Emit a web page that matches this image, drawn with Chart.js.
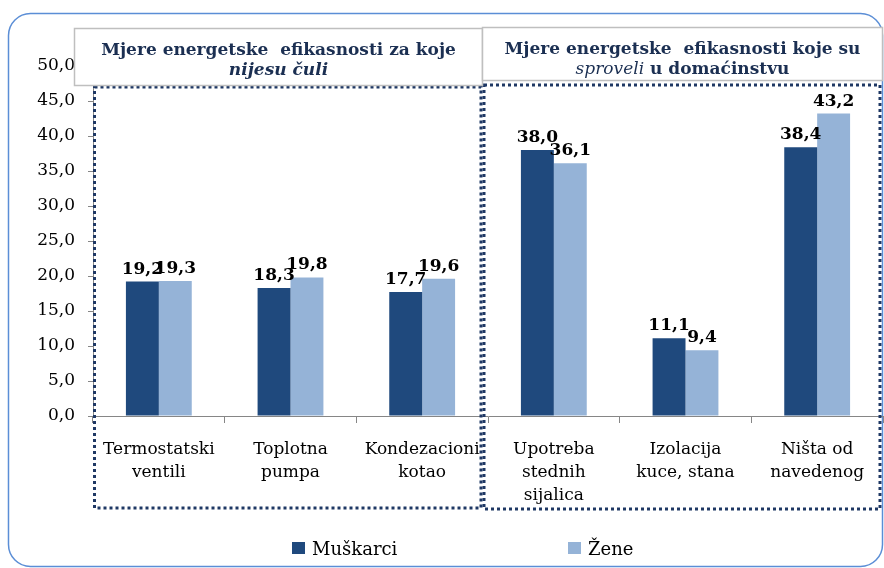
<!DOCTYPE html>
<html><head><meta charset="utf-8">
<script src="https://cdn.jsdelivr.net/npm/chart.js@4.4.0/dist/chart.umd.min.js"></script>
<style>html,body{margin:0;padding:0;background:#fff;}#wrap{position:relative;width:884px;height:568px;}</style>
</head><body><div id="wrap"><canvas id="c" width="884" height="568"></canvas></div>
<script>
// ---- data ----
const categories = [["Termostatski","ventili"],["Toplotna","pumpa"],["Kondezacioni","kotao"],["Upotreba","stednih","sijalica"],["Izolacija","kuce, stana"],["Ništa od","navedenog"]];
const seriesNames = ["Muškarci","Žene"];
const muskarci = [19.2,18.3,17.7,38.0,11.1,38.4];
const zene = [19.3,19.8,19.6,36.1,9.4,43.2];
const yMin = 0, yMax = 50, yStep = 5;
const leftGroupTitle = [[{t:"Mjere energetske  efikasnosti za koje",w:"bold",s:"normal"}],[{t:"nijesu čuli",w:"bold",s:"italic"}]];
const rightGroupTitle = [[{t:"Mjere energetske  efikasnosti koje su",w:"bold",s:"normal"}],[{t:"sproveli",w:"normal",s:"italic"},{t:" u domaćinstvu",w:"bold",s:"normal"}]];
const groupRanges = [[0,2],[3,5]];

const FONT = "'DejaVu Serif', serif";
const fmt = v => v.toFixed(1).replace('.', ',');
const colors = ['#1F497D', '#95B3D7'];

const decor = {
  id: 'decor',
  beforeDraw(chart) {
    const ctx = chart.ctx;
    ctx.save();
    ctx.fillStyle = '#fff';
    ctx.fillRect(0, 0, chart.width, chart.height);
    // outer rounded frame
    ctx.strokeStyle = '#5b8ed6';
    ctx.lineWidth = 1.5;
    ctx.beginPath();
    ctx.roundRect(8.5, 13.5, 874, 553, 22);
    ctx.stroke();
    ctx.restore();
  },
  afterDatasetsDraw(chart) {
    const ctx = chart.ctx;
    ctx.save();
    ctx.font = "bold 17px " + FONT;
    ctx.fillStyle = '#000';
    ctx.textAlign = 'center';
    ctx.textBaseline = 'alphabetic';
    chart.data.datasets.forEach((ds, di) => {
      chart.getDatasetMeta(di).data.forEach((bar, i) => {
        ctx.fillText(fmt(ds.data[i]), bar.x, bar.y - 8);
      });
    });
    ctx.restore();
  },
  afterDraw(chart) {
    const ctx = chart.ctx;
    const xs = chart.scales.x, ca = chart.chartArea;
    const half = (xs.getPixelForValue(1) - xs.getPixelForValue(0)) / 2;
    ctx.save();
    // dotted group boxes
    ctx.strokeStyle = '#1F3864';
    ctx.lineWidth = 3;
    ctx.setLineDash([3, 3]);
    const b1 = xs.getPixelForValue(groupRanges[0][1]) + half;
    ctx.strokeRect(ca.left + 1.5, ca.top + 21, b1 - 7 - ca.left - 1.5, ca.bottom + 92 - ca.top - 21);
    ctx.strokeRect(b1 - 4, ca.top + 19, ca.right - 3 - (b1 - 4), ca.bottom + 93 - ca.top - 19);
    ctx.setLineDash([]);
    // header boxes
    const drawHeader = (x0, x1, y0, y1, lines, base) => {
      ctx.fillStyle = '#fff';
      ctx.fillRect(x0, y0, x1 - x0, y1 - y0);
      ctx.strokeStyle = '#bfbfbf';
      ctx.lineWidth = 1.5;
      ctx.strokeRect(x0, y0, x1 - x0, y1 - y0);
      ctx.fillStyle = '#1b2f52';
      ctx.textBaseline = 'alphabetic';
      ctx.textAlign = 'left';
      const cx = (x0 + x1) / 2;
      lines.forEach((segs, li) => {
        let w = 0;
        segs.forEach(s => { ctx.font = `${s.s} ${s.w} 17px ${FONT}`; w += ctx.measureText(s.t).width; });
        let x = cx - w / 2;
        segs.forEach(s => { ctx.font = `${s.s} ${s.w} 17px ${FONT}`; ctx.fillText(s.t, x, base[li]); x += ctx.measureText(s.t).width; });
      });
    };
    drawHeader(74.5, b1 - 5.5, 28.5, 85.5, leftGroupTitle, [55, 75]);
    drawHeader(b1 - 5.5, ca.right - 0.5, 27.5, 80.5, rightGroupTitle, [54, 74]);
    // legend
    ctx.font = "18px " + FONT;
    ctx.textBaseline = 'alphabetic';
    ctx.textAlign = 'left';
    const legendX = [292, 568];
    chart.data.datasets.forEach((ds, di) => {
      ctx.fillStyle = ds.backgroundColor;
      ctx.fillRect(legendX[di], 542, 13, 12);
      ctx.fillStyle = '#000';
      ctx.fillText(ds.label, legendX[di] + 20, 555);
    });
    ctx.restore();
  }
};

new Chart(document.getElementById('c'), {
  type: 'bar',
  data: {
    labels: categories,
    datasets: [
      { label: seriesNames[0], data: muskarci, backgroundColor: colors[0] },
      { label: seriesNames[1], data: zene, backgroundColor: colors[1] }
    ]
  },
  options: {
    responsive: false,
    animation: false,
    devicePixelRatio: 1,
    layout: { padding: { top: 66, left: 0, right: 1, bottom: 52 } },
    datasets: { bar: { categoryPercentage: 0.5, barPercentage: 1.0 } },
    plugins: { legend: { display: false }, tooltip: { enabled: false } },
    scales: {
      x: {
        grid: { display: true, drawOnChartArea: false, drawTicks: true, tickLength: 7, color: '#868686', offset: true },
        border: { display: true, color: '#868686', width: 1 },
        ticks: { font: { family: FONT, size: 17, lineHeight: 1.35 }, color: '#000', padding: 15, maxRotation: 0, autoSkip: false },
        afterFit: s => { s.height = 100; }
      },
      y: {
        min: yMin, max: yMax,
        grid: { display: true, drawOnChartArea: false, drawTicks: true, tickLength: 5, color: '#868686' },
        border: { display: true, color: '#868686', width: 1 },
        ticks: { stepSize: yStep, font: { family: FONT, size: 17 }, color: '#000', padding: 13, callback: v => fmt(v) },
        afterFit: s => { s.width = 93; }
      }
    }
  },
  plugins: [decor]
});
</script></body></html>
